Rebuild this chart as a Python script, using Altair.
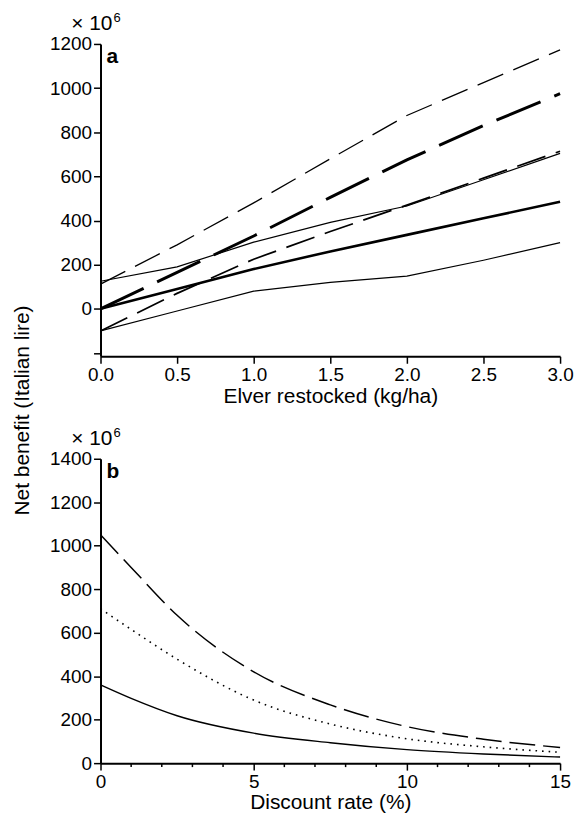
import altair as alt
import pandas as pd

# ---------------- data: panel a ----------------
elver = [0.0, 0.5, 1.0, 1.5, 2.0, 2.5, 3.0]
a_upper_dashed = [112, 290, 480, 680, 876, 1025, 1173]
a_thick_dashed = [0, 165, 330, 505, 675, 830, 975]
a_lower_dashed = [-100, 70, 225, 350, 470, 592, 714]
a_upper_solid = [125, 190, 302, 392, 466, 585, 704]
a_thick_solid = [0, 90, 180, 260, 335, 410, 485]
a_lower_solid = [-100, -10, 80, 120, 148, 220, 300]

# ---------------- data: panel b ----------------
rate = [0, 1, 2.5, 5, 7.5, 10, 12.5, 15]
b_dashed = [1050, 900, 680, 420, 268, 168, 110, 72]
b_dotted = [710, 615, 478, 290, 180, 112, 75, 50]
b_solid = [360, 298, 218, 138, 94, 62, 42, 28]

# tick positions
a_x_ticks = [i * 0.25 for i in range(13)]
a_y_ticks = list(range(-200, 1201, 100))
b_x_major = [0, 5, 10, 15]
b_x_minor = [v for v in range(0, 16) if v % 5 != 0]
b_y_ticks = list(range(0, 1401, 100))

FONT = "Liberation Sans"
W = 462
HA = 314
HB = 306


def tick_cond(test):
    return {"condition": {"test": test, "value": 7}, "value": 4}


x_axis_a = alt.Axis(title="Elver restocked (kg/ha)",
                    values=a_x_ticks,
                    labelExpr="(datum.value*2) % 1 === 0 ? format(datum.value, '.1f') : ''",
                    tickSize=tick_cond("(datum.value*2) % 1 === 0"),
                    labelOverlap=False, labelFlush=False)
y_axis_a = alt.Axis(title="Net benefit (Italian lire)",
                    values=a_y_ticks,
                    labelExpr="datum.value % 200 === 0 && datum.value >= 0 ? format(datum.value, 'd') : ''",
                    tickSize=tick_cond("datum.value % 200 === 0"),
                    labelOverlap=False, labelFlush=False,
                    titleX=-78, titleY=368, titleAngle=270,
                    titleAlign="center", titleBaseline="middle")
x_scale_a = alt.Scale(domain=[0, 3], nice=False)
y_scale_a = alt.Scale(domain=[-215, 1200], nice=False, zero=False)

x_axis_b = alt.Axis(title="Discount rate (%)", values=b_x_major, format="d",
                    tickSize=7, labelOverlap=False, labelFlush=False)
y_axis_b = alt.Axis(title=None,
                    values=b_y_ticks,
                    labelExpr="datum.value % 200 === 0 ? format(datum.value, 'd') : ''",
                    tickSize=tick_cond("datum.value % 200 === 0"),
                    labelOverlap=False, labelFlush=False)
x_scale_b = alt.Scale(domain=[0, 15], nice=False)
y_scale_b = alt.Scale(domain=[0, 1400], nice=False)


def series_line(xs, ys, dash, width, xsc, ysc, xax, yax, interp="linear"):
    df = pd.DataFrame({"x": xs, "y": ys})
    kw = dict(color="black", strokeWidth=width, strokeCap="butt", interpolate=interp)
    if dash:
        kw["strokeDash"] = dash
    return alt.Chart(df).mark_line(**kw).encode(
        x=alt.X("x:Q", scale=xsc, axis=xax),
        y=alt.Y("y:Q", scale=ysc, axis=yax),
    )


def txt(t, x, y, size, weight="normal", align="left"):
    return alt.Chart(pd.DataFrame({"t": [t]})).mark_text(
        font=FONT, fontSize=size, fontWeight=weight, align=align,
        baseline="alphabetic", color="black"
    ).encode(text="t:N", x=alt.value(x), y=alt.value(y))


# ---------------- panel a ----------------
a_specs = [
    (a_upper_dashed, [28, 11], 1.3),
    (a_thick_dashed, [48, 15], 3.0),
    (a_lower_dashed, [30, 11], 1.7),
    (a_upper_solid, None, 1.2),
    (a_thick_solid, None, 2.6),
    (a_lower_solid, None, 1.2),
]
a_layers = []
for i, (vals, dash, w) in enumerate(a_specs):
    a_layers.append(series_line(elver, vals, dash, w, x_scale_a, y_scale_a,
                                x_axis_a if i == 0 else alt.Undefined,
                                y_axis_a if i == 0 else alt.Undefined))
a_layers += [txt("× 10", 12, -14, 21, align="right"), txt("6", 13, -22, 13),
             txt("a", 6, 19, 21, weight="bold")]
panel_a = alt.layer(*a_layers).properties(width=W, height=HA)

# ---------------- panel b ----------------
b_specs = [
    (b_dashed, [26, 8], 1.5),
    (b_dotted, [1.6, 5], 1.6),
    (b_solid, None, 1.4),
]
b_layers = []
for i, (vals, dash, w) in enumerate(b_specs):
    b_layers.append(series_line(rate, vals, dash, w, x_scale_b, y_scale_b,
                                x_axis_b if i == 0 else alt.Undefined,
                                y_axis_b if i == 0 else alt.Undefined, interp="monotone"))
# minor ticks on the discount-rate axis
minor_b = alt.Chart(pd.DataFrame({"x": b_x_minor})).mark_rule(
    color="black", strokeWidth=1.5
).encode(x=alt.X("x:Q", scale=x_scale_b), y=alt.value(HB), y2=alt.value(HB + 4))
b_layers.append(minor_b)
b_layers += [txt("× 10", 12, -14, 21, align="right"), txt("6", 13, -22, 13),
             txt("b", 6, 19, 21, weight="bold")]
panel_b = alt.layer(*b_layers).properties(width=W, height=HB)

chart = alt.vconcat(panel_a, panel_b, spacing=103, bounds="flush").properties(
    padding={"left": 4, "top": 2, "right": 0, "bottom": 0}
).configure(background="white").configure_view(stroke=None).configure_axis(
    domainColor="black", domainWidth=2, tickColor="black", tickWidth=1.5,
    labelFont=FONT, labelFontSize=19, labelColor="black", labelPadding=2,
    titleFont=FONT, titleFontSize=21, titleFontWeight="normal", titleColor="black",
    titlePadding=1, grid=False
)

chart.save("out.html", embed_options={"renderer": "svg", "actions": False})
